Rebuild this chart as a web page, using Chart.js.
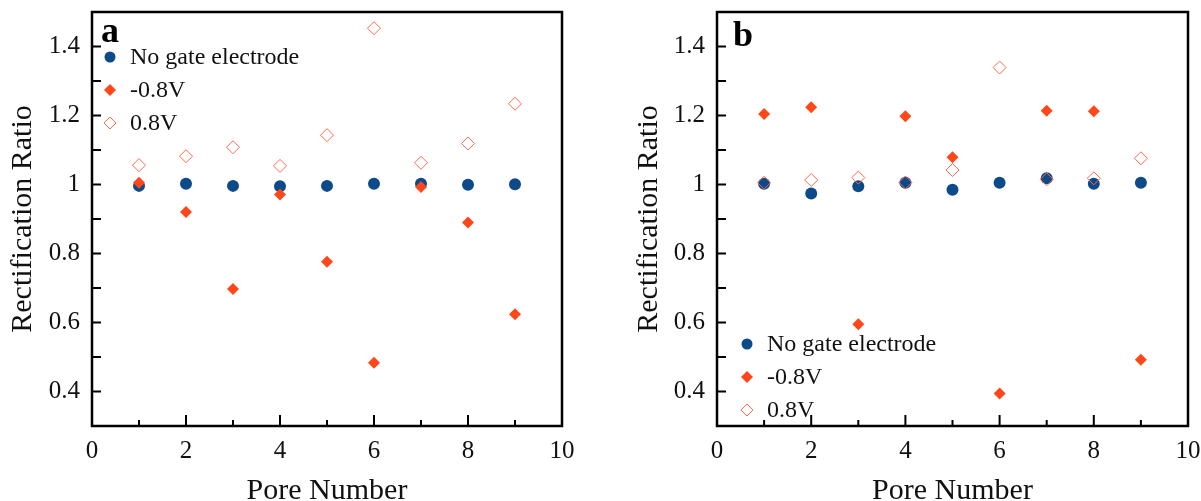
<!DOCTYPE html>
<html lang="en">
<head>
  <meta charset="UTF-8">
  <title>Rectification Ratio vs Pore Number</title>
  <style>
    body {
      margin: 0;
      padding: 0;
      background: #fff;
    }
    .wrap {
      position: relative;
      width: 1201px;
      height: 501px;
    }
    .wrap canvas {
      position: absolute;
      top: 0;
    }
    #chartA { left: 0; }
    #chartB { left: 600px; }
  </style>
  <script src="https://cdn.jsdelivr.net/npm/chart.js"></script>
</head>
<body>
  <div class="wrap">
    <canvas id="chartA" width="600" height="501"></canvas>
    <canvas id="chartB" width="601" height="501"></canvas>
  </div>
  <script>
    // pore index on the x axis
    const pores = [1, 2, 3, 4, 5, 6, 7, 8, 9];

    // panel a
    const aNoGate = [0.996, 1.002, 0.996, 0.995, 0.996, 1.002, 1.002, 0.999, 1.001];
    const aNeg = [1.005, 0.920, 0.697, 0.971, 0.776, 0.483, 0.993, 0.890, 0.624];
    const aPos = [1.056, 1.082, 1.108, 1.054, 1.143, 1.453, 1.063, 1.119, 1.234];

    // panel b
    const bNoGate = [1.002, 0.974, 0.995, 1.005, 0.985, 1.005, 1.018, 1.002, 1.005];
    const bNeg = [1.204, 1.224, 0.595, 1.198, 1.079, 0.394, 1.214, 1.212, 0.492];
    const bPos = [1.005, 1.013, 1.020, 1.006, 1.042, 1.339, 1.015, 1.018, 1.076];

    const seriesNames = ['No gate electrode', '-0.8V', '0.8V'];

    // ticks
    const xTicks = [0, 2, 4, 6, 8, 10];
    const xMinor = [1, 3, 5, 7, 9];
    const yTicks = [0.4, 0.6, 0.8, 1.0, 1.2, 1.4];
    const yMinor = [0.5, 0.7, 0.9, 1.1, 1.3];

    const NAVY = '#0c4a89';
    const RED = '#ff4719';
    const RED_LIGHT = '#ff6b4b';
    const FONT = '"Liberation Serif", "Times New Roman", serif';

    function pts(ys) {
      return pores.map((x, i) => ({ x: x, y: ys[i] }));
    }

    // frame + inward ticks + panel letter + legend
    const framePlugin = {
      id: 'frame',
      afterDatasetsDraw(chart, args, opts) {
        const ctx = chart.ctx;
        const a = chart.chartArea;
        const xs = chart.scales.x, ys = chart.scales.y;
        ctx.save();
        ctx.strokeStyle = '#000';
        ctx.lineWidth = 2;
        ctx.beginPath();
        xTicks.forEach(v => {
          const px = xs.getPixelForValue(v);
          ctx.moveTo(px, a.bottom);
          ctx.lineTo(px, a.bottom - 11);
        });
        xMinor.forEach(v => {
          const px = xs.getPixelForValue(v);
          ctx.moveTo(px, a.bottom);
          ctx.lineTo(px, a.bottom - 6);
        });
        yTicks.concat(yMinor).forEach(v => {
          const py = ys.getPixelForValue(v);
          ctx.moveTo(a.left, py);
          ctx.lineTo(a.left + 9, py);
        });
        ctx.stroke();
        ctx.lineWidth = 2.5;
        ctx.strokeRect(a.left, a.top, a.right - a.left, a.bottom - a.top);

        // panel letter
        ctx.fillStyle = '#000';
        ctx.font = 'bold 36px ' + FONT;
        ctx.textBaseline = 'alphabetic';
        ctx.textAlign = 'left';
        ctx.fillText(opts.letter, opts.letterX, opts.letterY);

        // legend
        ctx.font = '24px ' + FONT;
        ctx.textBaseline = 'middle';
        chart.data.datasets.forEach((ds, i) => {
          const y = opts.legendY + i * 33;
          const x = opts.legendX;
          ctx.beginPath();
          if (ds.pointStyle === 'circle') {
            ctx.arc(x, y, 5.5, 0, Math.PI * 2);
          } else {
            ctx.moveTo(x, y - 6);
            ctx.lineTo(x + 6, y);
            ctx.lineTo(x, y + 6);
            ctx.lineTo(x - 6, y);
            ctx.closePath();
          }
          if (ds.backgroundColor !== 'rgba(0,0,0,0)') {
            ctx.fillStyle = ds.backgroundColor;
            ctx.fill();
          } else {
            ctx.strokeStyle = ds.borderColor;
            ctx.lineWidth = 1;
            ctx.stroke();
          }
          ctx.fillStyle = '#111';
          ctx.fillText(ds.label, x + 20, y + 1);
        });
        ctx.restore();
      }
    };

    function makeChart(id, noGate, neg, pos, axisW, padRight, titlePad, frameOpts) {
      const ctx = document.getElementById(id).getContext('2d');
      return new Chart(ctx, {
        type: 'scatter',
        data: {
          datasets: [
            {
              label: seriesNames[0],
              data: pts(noGate),
              pointStyle: 'circle',
              pointRadius: 6,
              backgroundColor: NAVY,
              borderColor: NAVY,
              borderWidth: 0,
              order: 3
            },
            {
              label: seriesNames[1],
              data: pts(neg),
              pointStyle: 'rectRot',
              pointRadius: 6,
              backgroundColor: RED,
              borderColor: RED,
              borderWidth: 0,
              order: 2
            },
            {
              label: seriesNames[2],
              data: pts(pos),
              pointStyle: 'rectRot',
              pointRadius: 6.5,
              backgroundColor: 'rgba(0,0,0,0)',
              borderColor: RED_LIGHT,
              borderWidth: 1,
              order: 1
            }
          ]
        },
        options: {
          responsive: false,
          devicePixelRatio: 1,
          animation: false,
          layout: { padding: { top: 12, right: padRight, left: 0, bottom: 0 } },
          plugins: {
            legend: { display: false },
            tooltip: { enabled: false },
            frame: frameOpts
          },
          scales: {
            x: {
              type: 'linear',
              min: 0,
              max: 10,
              border: { display: false },
              grid: { display: false, drawTicks: false },
              afterBuildTicks: s => { s.ticks = xTicks.map(v => ({ value: v })); },
              afterFit: s => { s.height = 75; s.paddingLeft = 0; s.paddingRight = 0; },
              ticks: {
                padding: 10,
                color: '#111',
                font: { family: FONT, size: 25 },
                maxRotation: 0,
                callback: v => String(v)
              },
              title: {
                display: true,
                text: 'Pore Number',
                color: '#111',
                font: { family: FONT, size: 30 },
                padding: { top: 0, bottom: -8 }
              }
            },
            y: {
              type: 'linear',
              min: 0.3,
              max: 1.5,
              border: { display: false },
              grid: { display: false, drawTicks: false },
              afterBuildTicks: s => { s.ticks = yTicks.map(v => ({ value: v })); },
              afterFit: s => { s.width = axisW; s.paddingTop = 0; s.paddingBottom = 0; },
              ticks: {
                padding: 12,
                color: '#111',
                font: { family: FONT, size: 25 },
                callback: v => (Math.abs(v - 1) < 1e-9 ? '1' : v.toFixed(1))
              },
              title: {
                display: true,
                text: 'Rectification Ratio',
                color: '#111',
                font: { family: FONT, size: 30 },
                padding: { top: titlePad, bottom: 0 }
              }
            }
          }
        },
        plugins: [framePlugin]
      });
    }

    makeChart('chartA', aNoGate, aNeg, aPos, 92, 38, 5,
      { letter: 'a', letterX: 101, letterY: 42, legendX: 110, legendY: 57 });
    makeChart('chartB', bNoGate, bNeg, bPos, 117, 13, 31,
      { letter: 'b', letterX: 133, letterY: 46, legendX: 147, legendY: 344 });
  </script>
</body>
</html>
